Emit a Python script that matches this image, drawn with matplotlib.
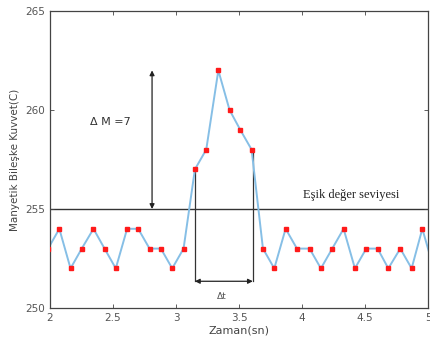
import matplotlib.pyplot as plt

# Data
time_s = [1.985, 2.074, 2.163, 2.252, 2.345, 2.433, 2.522, 2.612, 2.700, 2.790,
          2.880, 2.970, 3.060, 3.150, 3.240, 3.336, 3.425, 3.510, 3.600, 3.690,
          3.780, 3.870, 3.960, 4.060, 4.150, 4.240, 4.330, 4.420, 4.510, 4.600,
          4.685, 4.780, 4.870, 4.955, 5.045]
force = [253, 254, 252, 253, 254, 253, 252, 254, 254, 253,
         253, 252, 253, 257, 258, 262, 260, 259, 258, 253,
         252, 254, 253, 253, 252, 253, 254, 252, 253, 253,
         252, 253, 252, 254, 252]
threshold = 255
delta_m = 7
t_start, t_end = 3.150, 3.610

fig = plt.figure(figsize=(4.3, 3.47), dpi=100)
ax = fig.add_axes([50 / 430, 1 - 308 / 347, 378 / 430, 297 / 347])

ax.plot(time_s, force, color='#86bfe6', lw=1.4, zorder=2)
ax.plot(time_s, force, ls='none', marker='s', ms=3.2, color='#ff1a1a', zorder=3)

# threshold level
ax.axhline(threshold, color='#333333', lw=1.0, zorder=1)
ax.text(4.39, threshold + 0.4, 'Eşik değer seviyesi', family='Liberation Serif',
        fontsize=9, ha='center', va='bottom', color='#222222')

# delta M arrow
ax.annotate('', xy=(2.81, threshold + delta_m), xytext=(2.81, threshold),
            arrowprops=dict(arrowstyle='<|-|>', color='#222222', lw=0.9,
                            mutation_scale=7, shrinkA=0, shrinkB=0))
ax.text(2.48, 259.4, 'Δ M =7', fontsize=8, ha='center', va='center', color='#333333')

# delta t arrow
y_dt = 251.35
ax.plot([t_start, t_start], [257, y_dt], color='#333333', lw=0.9, zorder=1)
ax.plot([t_end, t_end], [258, y_dt], color='#333333', lw=0.9, zorder=1)
ax.annotate('', xy=(t_start, y_dt), xytext=(t_end, y_dt),
            arrowprops=dict(arrowstyle='<|-|>', color='#222222', lw=0.9,
                            mutation_scale=7, shrinkA=0, shrinkB=0))
ax.text(3.36, 250.6, 'Δt', fontsize=6.5, ha='center', va='center', color='#555555')

ax.set_xlim(2, 5)
ax.set_ylim(250, 265)
ax.set_xticks([2, 2.5, 3, 3.5, 4, 4.5, 5])
ax.set_xticklabels(['2', '2.5', '3', '3.5', '4', '4.5', '5'])
ax.set_yticks([250, 255, 260, 265])
ax.tick_params(direction='in', top=True, right=True, length=3, width=0.6,
               labelsize=7.5, colors='#444444', labelcolor='#555555')
for s in ax.spines.values():
    s.set_color('#444444')
    s.set_linewidth(0.9)

ax.set_xlabel('Zaman(sn)', fontsize=8, color='#444444', labelpad=2)
ax.set_ylabel('Manyetik Bileşke Kuvvet(C)', fontsize=7.5, color='#444444', labelpad=4)

plt.savefig('out.png', dpi=100)
